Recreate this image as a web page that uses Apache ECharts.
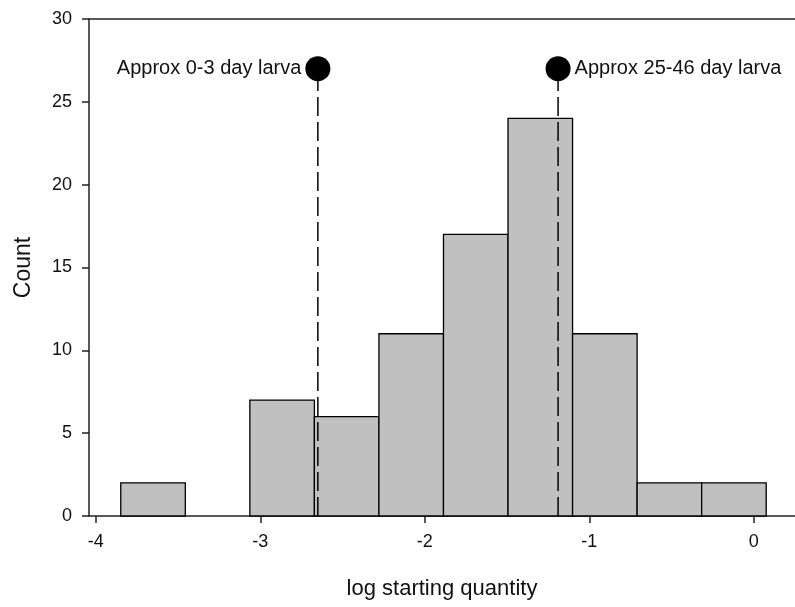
<!DOCTYPE html>
<html>
<head>
<meta charset="utf-8">
<script src="https://cdn.jsdelivr.net/npm/echarts@6/dist/echarts.min.js"></script>
<style>html,body{margin:0;padding:0;background:#fff;}#c{width:795px;height:607px;}</style>
</head>
<body>
<div id="c"></div>
<script>
// Histogram data
const binStart = -3.848;
const binWidth = 0.3923;
const counts = [2, 0, 7, 6, 11, 17, 24, 11, 2, 2];
const xTicks = [-4, -3, -2, -1, 0];
const yTicks = [0, 5, 10, 15, 20, 25, 30];
const markerX = [-2.65, -1.19];
const markerY = [27, 27];
const markerLabels = ['Approx 0-3 day larva', 'Approx 25-46 day larva'];

const bins = counts.map((c, i) => [binStart + i * binWidth, binStart + (i + 1) * binWidth, c]);
const font = 'Liberation Sans, Arial, sans-serif';

const chart = echarts.init(document.getElementById('c'), null, {renderer: 'canvas'});
const series = [{
  type: 'custom',
  data: bins,
  renderItem: function (params, api) {
    const c = api.value(2);
    if (!c) return null;
    const p0 = api.coord([api.value(0), 0]);
    const p1 = api.coord([api.value(1), c]);
    return {
      type: 'rect',
      shape: {x: p0[0], y: p1[1], width: p1[0] - p0[0], height: p0[1] - p1[1]},
      style: {fill: '#c0c0c0', stroke: '#000', lineWidth: 1.3}
    };
  },
  encode: {x: [0, 1], y: 2},
  z: 2
}];
markerX.forEach((x, i) => {
  series.push({
    type: 'line',
    data: [[x, 0], [x, markerY[i]]],
    symbol: 'none',
    lineStyle: {color: '#000', width: 1.5, type: [19, 6]},
    z: 3
  });
});
series.push({
  type: 'scatter',
  data: markerX.map((x, i) => ({
    value: [x, markerY[i]],
    label: {
      show: true,
      position: i === 0 ? 'left' : 'right',
      distance: 4,
      formatter: markerLabels[i],
      color: '#111',
      fontSize: 20,
      fontFamily: font
    }
  })),
  symbol: 'circle',
  symbolSize: 25,
  itemStyle: {color: '#000', opacity: 1},
  emphasis: {disabled: true},
  z: 4
});

chart.setOption({
  animation: false,
  backgroundColor: '#fff',
  grid: {left: 89, right: 0, top: 19, bottom: 91, containLabel: false},
  xAxis: [{
    type: 'value',
    min: -4.041,
    max: 0.25,
    name: 'log starting quantity',
    nameLocation: 'middle',
    nameGap: 62,
    nameTextStyle: {fontSize: 22, color: '#111', fontFamily: font},
    axisLine: {show: true, onZero: false, lineStyle: {color: '#222', width: 1.5}},
    axisTick: {show: true, length: 7, customValues: xTicks, lineStyle: {color: '#222', width: 1.5}},
    axisLabel: {customValues: xTicks, fontSize: 18, color: '#111', fontFamily: font, margin: 17,
      formatter: v => String(v)},
    splitLine: {show: false}
  }, {
    type: 'value',
    position: 'top',
    min: -4.041,
    max: 0.25,
    axisLine: {show: true, onZero: false, lineStyle: {color: '#222', width: 1.5}},
    axisTick: {show: false},
    axisLabel: {show: false},
    splitLine: {show: false}
  }],
  yAxis: {
    type: 'value',
    min: 0,
    max: 30,
    interval: 5,
    name: 'Count',
    nameLocation: 'middle',
    nameGap: 54,
    nameTextStyle: {fontSize: 23, color: '#111', fontFamily: font},
    axisLine: {show: true, onZero: false, lineStyle: {color: '#222', width: 1.5}},
    axisTick: {show: true, length: 7, lineStyle: {color: '#222', width: 1.5}},
    axisLabel: {fontSize: 18, color: '#111', fontFamily: font, margin: 17},
    splitLine: {show: false}
  },
  series: series
});
</script>
</body>
</html>
